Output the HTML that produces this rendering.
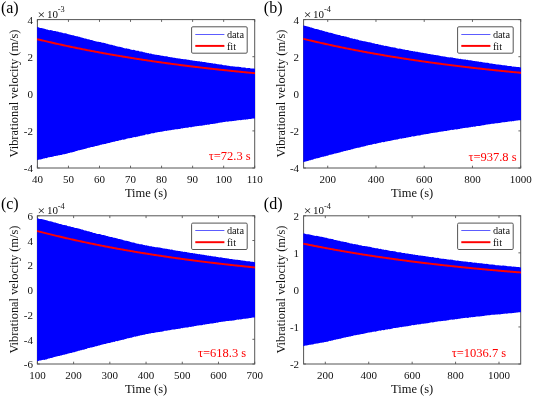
<!DOCTYPE html>
<html><head><meta charset="utf-8"><title>Figure</title>
<style>
html,body{margin:0;padding:0;background:#fff;}
body{width:533px;height:397px;overflow:hidden;font-family:"Liberation Serif",serif;}
svg{display:block;will-change:transform;}
text{font-family:"Liberation Serif",serif;fill:#111111;}
.tk{font-size:11px;}
.lb{font-size:12.5px;}
.lg{font-size:10.3px;}
.pn{font-size:16px;fill:#000;}
.tau{font-size:12.5px;fill:#ff0000;}
</style></head><body>
<svg width="533" height="397" viewBox="0 0 533 397">
<rect x="0" y="0" width="533" height="397" fill="#ffffff"/>

<g>
<rect x="37.40" y="19.60" width="217.30" height="148.40" fill="none" stroke="#555555" stroke-width="1"/>
<text class="tk" x="37.40" y="182.80" text-anchor="middle">40</text>
<text class="tk" x="68.44" y="182.80" text-anchor="middle">50</text>
<text class="tk" x="99.49" y="182.80" text-anchor="middle">60</text>
<text class="tk" x="130.53" y="182.80" text-anchor="middle">70</text>
<text class="tk" x="161.57" y="182.80" text-anchor="middle">80</text>
<text class="tk" x="192.61" y="182.80" text-anchor="middle">90</text>
<text class="tk" x="223.66" y="182.80" text-anchor="middle">100</text>
<text class="tk" x="254.70" y="182.80" text-anchor="middle">110</text>
<text class="tk" x="32.90" y="23.80" text-anchor="end">4</text>
<text class="tk" x="32.90" y="60.90" text-anchor="end">2</text>
<text class="tk" x="32.90" y="98.00" text-anchor="end">0</text>
<text class="tk" x="32.90" y="135.10" text-anchor="end">-2</text>
<text class="tk" x="32.90" y="172.20" text-anchor="end">-4</text>
<path d="M37.40,168.00v-2.3M37.40,19.60v2.3M68.44,168.00v-2.3M68.44,19.60v2.3M99.49,168.00v-2.3M99.49,19.60v2.3M130.53,168.00v-2.3M130.53,19.60v2.3M161.57,168.00v-2.3M161.57,19.60v2.3M192.61,168.00v-2.3M192.61,19.60v2.3M223.66,168.00v-2.3M223.66,19.60v2.3M254.70,168.00v-2.3M254.70,19.60v2.3M37.40,19.60h2.3M254.70,19.60h-2.3M37.40,56.70h2.3M254.70,56.70h-2.3M37.40,93.80h2.3M254.70,93.80h-2.3M37.40,130.90h2.3M254.70,130.90h-2.3M37.40,168.00h2.3M254.70,168.00h-2.3" stroke="#555555" stroke-width="0.9" fill="none"/>
<polygon points="37.10,27.02 38.40,27.24 39.40,27.66 40.40,27.88 41.41,27.96 42.41,28.20 43.41,28.47 44.41,28.85 45.41,28.96 46.41,29.39 47.41,29.60 48.42,29.98 49.42,30.15 50.42,30.07 51.42,30.35 52.42,30.50 53.42,30.89 54.42,31.06 55.42,31.07 56.43,31.52 57.43,31.58 58.43,31.84 59.43,32.19 60.43,32.18 61.43,32.51 62.43,32.81 63.44,33.13 64.44,33.14 65.44,33.26 66.44,33.46 67.44,34.00 68.44,34.30 69.44,34.48 70.45,34.70 71.45,35.07 72.45,35.18 73.45,35.28 74.45,35.78 75.45,36.11 76.45,36.21 77.46,36.33 78.46,36.65 79.46,36.87 80.46,37.16 81.46,37.53 82.46,37.67 83.46,38.12 84.46,38.49 85.47,38.53 86.47,38.82 87.47,39.32 88.47,39.26 89.47,39.54 90.47,39.94 91.47,39.95 92.48,40.35 93.48,40.83 94.48,40.89 95.48,41.20 96.48,41.52 97.48,41.75 98.48,41.79 99.49,41.90 100.49,42.11 101.49,42.40 102.49,42.68 103.49,42.78 104.49,43.06 105.49,43.27 106.50,43.75 107.50,43.85 108.50,44.14 109.50,44.57 110.50,44.67 111.50,44.76 112.50,45.11 113.51,45.55 114.51,45.47 115.51,45.92 116.51,46.17 117.51,46.40 118.51,46.78 119.51,46.78 120.51,46.98 121.52,47.36 122.52,47.51 123.52,47.93 124.52,48.17 125.52,48.38 126.52,48.36 127.52,48.63 128.53,48.70 129.53,49.00 130.53,49.48 131.53,49.67 132.53,49.88 133.53,49.80 134.53,50.00 135.54,50.38 136.54,50.69 137.54,50.83 138.54,50.83 139.54,51.38 140.54,51.54 141.54,51.54 142.55,51.83 143.55,52.31 144.55,52.31 145.55,52.66 146.55,52.65 147.55,53.18 148.55,53.09 149.55,53.64 150.56,53.60 151.56,53.72 152.56,54.26 153.56,54.28 154.56,54.44 155.56,54.78 156.56,54.73 157.57,54.90 158.57,55.08 159.57,55.20 160.57,55.46 161.57,55.72 162.57,55.83 163.57,56.03 164.58,56.20 165.58,56.33 166.58,56.32 167.58,56.55 168.58,56.93 169.58,56.93 170.58,57.18 171.59,57.16 172.59,57.38 173.59,57.74 174.59,57.81 175.59,58.11 176.59,58.14 177.59,58.25 178.59,58.38 179.60,58.54 180.60,58.78 181.60,59.03 182.60,59.03 183.60,59.29 184.60,59.15 185.60,59.28 186.61,59.43 187.61,59.86 188.61,59.75 189.61,60.10 190.61,60.34 191.61,60.22 192.61,60.43 193.62,60.81 194.62,60.63 195.62,60.91 196.62,60.93 197.62,61.29 198.62,61.36 199.62,61.29 200.63,61.68 201.63,61.60 202.63,62.04 203.63,61.91 204.63,62.04 205.63,62.28 206.63,62.49 207.64,62.80 208.64,62.69 209.64,63.01 210.64,62.97 211.64,63.36 212.64,63.27 213.64,63.65 214.64,63.58 215.65,63.73 216.65,64.03 217.65,64.23 218.65,64.26 219.65,64.52 220.65,64.50 221.65,64.62 222.66,64.88 223.66,65.20 224.66,65.24 225.66,65.32 226.66,65.43 227.66,65.76 228.66,65.68 229.67,66.11 230.67,66.19 231.67,66.19 232.67,66.28 233.67,66.52 234.67,66.51 235.67,66.77 236.68,66.77 237.68,66.75 238.68,66.87 239.68,67.06 240.68,67.11 241.68,67.54 242.68,67.41 243.68,67.53 244.69,67.59 245.69,67.74 246.69,68.14 247.69,67.96 248.69,68.09 249.69,68.08 250.69,68.38 251.70,68.38 252.70,68.42 253.70,68.56 255.00,68.84 255.00,118.46 253.70,118.53 252.70,118.59 251.70,118.80 250.69,118.91 249.69,118.97 248.69,119.07 247.69,119.43 246.69,119.37 245.69,119.65 244.69,119.55 243.68,119.67 242.68,119.69 241.68,119.98 240.68,120.16 239.68,120.00 238.68,120.35 237.68,120.22 236.68,120.43 235.67,120.66 234.67,120.86 233.67,121.05 232.67,120.98 231.67,121.24 230.67,121.21 229.67,121.21 228.66,121.49 227.66,121.66 226.66,121.58 225.66,121.72 224.66,121.93 223.66,122.12 222.66,122.27 221.65,122.38 220.65,122.51 219.65,122.69 218.65,122.80 217.65,123.27 216.65,123.18 215.65,123.55 214.64,123.70 213.64,123.83 212.64,124.04 211.64,123.98 210.64,123.99 209.64,124.40 208.64,124.64 207.64,124.53 206.63,124.94 205.63,124.78 204.63,125.19 203.63,125.14 202.63,125.57 201.63,125.72 200.63,125.68 199.62,125.75 198.62,125.93 197.62,125.91 196.62,126.17 195.62,126.33 194.62,126.51 193.62,126.81 192.61,126.82 191.61,127.15 190.61,127.30 189.61,127.12 188.61,127.50 187.61,127.71 186.61,127.77 185.60,127.75 184.60,127.98 183.60,128.00 182.60,128.47 181.60,128.35 180.60,128.75 179.60,128.92 178.59,128.91 177.59,129.13 176.59,129.21 175.59,129.33 174.59,129.62 173.59,129.67 172.59,129.73 171.59,130.00 170.58,130.25 169.58,130.31 168.58,130.48 167.58,130.61 166.58,130.90 165.58,130.82 164.58,130.92 163.57,131.29 162.57,131.61 161.57,131.77 160.57,131.76 159.57,132.11 158.57,132.09 157.57,132.33 156.56,132.39 155.56,132.54 154.56,132.99 153.56,133.20 152.56,133.29 151.56,133.24 150.56,133.66 149.55,133.91 148.55,134.20 147.55,134.41 146.55,134.37 145.55,134.60 144.55,135.13 143.55,135.14 142.55,135.52 141.54,135.75 140.54,135.85 139.54,136.20 138.54,136.37 137.54,136.65 136.54,136.74 135.54,137.13 134.53,137.06 133.53,137.28 132.53,137.55 131.53,138.00 130.53,137.98 129.53,138.28 128.53,138.32 127.52,138.43 126.52,138.84 125.52,139.14 124.52,139.39 123.52,139.69 122.52,139.61 121.52,140.07 120.51,140.30 119.51,140.37 118.51,140.74 117.51,141.10 116.51,140.96 115.51,141.25 114.51,141.82 113.51,141.75 112.50,142.03 111.50,142.21 110.50,142.61 109.50,143.06 108.50,142.96 107.50,143.29 106.50,143.46 105.49,143.99 104.49,144.02 103.49,144.18 102.49,144.37 101.49,144.65 100.49,144.84 99.49,145.30 98.48,145.43 97.48,145.82 96.48,146.05 95.48,145.99 94.48,146.46 93.48,146.73 92.48,146.93 91.47,147.12 90.47,147.30 89.47,147.65 88.47,147.80 87.47,148.02 86.47,148.57 85.47,148.64 84.46,149.08 83.46,149.35 82.46,149.44 81.46,149.87 80.46,149.89 79.46,150.36 78.46,150.37 77.46,150.77 76.45,151.12 75.45,151.23 74.45,151.78 73.45,151.92 72.45,152.17 71.45,152.55 70.45,152.62 69.44,152.93 68.44,153.08 67.44,153.44 66.44,153.72 65.44,153.89 64.44,154.23 63.44,154.21 62.43,154.50 61.43,154.95 60.43,155.05 59.43,155.31 58.43,155.36 57.43,155.68 56.43,155.82 55.42,155.94 54.42,156.08 53.42,156.41 52.42,156.70 51.42,157.00 50.42,156.93 49.42,157.21 48.42,157.33 47.41,157.69 46.41,158.14 45.41,158.08 44.41,158.55 43.41,158.50 42.41,158.88 41.41,159.17 40.40,159.38 39.40,159.53 38.40,159.85 37.10,160.28" fill="#0000ff"/>
<polyline points="37.10,39.23 38.40,39.47 39.40,39.71 40.40,39.96 41.41,40.20 42.41,40.43 43.41,40.67 44.41,40.91 45.41,41.15 46.41,41.38 47.41,41.62 48.42,41.85 49.42,42.08 50.42,42.31 51.42,42.54 52.42,42.77 53.42,43.00 54.42,43.22 55.42,43.45 56.43,43.68 57.43,43.90 58.43,44.12 59.43,44.34 60.43,44.56 61.43,44.78 62.43,45.00 63.44,45.22 64.44,45.44 65.44,45.65 66.44,45.87 67.44,46.08 68.44,46.30 69.44,46.51 70.45,46.72 71.45,46.93 72.45,47.14 73.45,47.35 74.45,47.55 75.45,47.76 76.45,47.97 77.46,48.17 78.46,48.38 79.46,48.58 80.46,48.78 81.46,48.98 82.46,49.18 83.46,49.38 84.46,49.58 85.47,49.78 86.47,49.97 87.47,50.17 88.47,50.36 89.47,50.56 90.47,50.75 91.47,50.94 92.48,51.14 93.48,51.33 94.48,51.52 95.48,51.70 96.48,51.89 97.48,52.08 98.48,52.27 99.49,52.45 100.49,52.64 101.49,52.82 102.49,53.00 103.49,53.19 104.49,53.37 105.49,53.55 106.50,53.73 107.50,53.91 108.50,54.09 109.50,54.26 110.50,54.44 111.50,54.62 112.50,54.79 113.51,54.96 114.51,55.14 115.51,55.31 116.51,55.48 117.51,55.65 118.51,55.82 119.51,55.99 120.51,56.16 121.52,56.33 122.52,56.50 123.52,56.67 124.52,56.83 125.52,57.00 126.52,57.16 127.52,57.33 128.53,57.49 129.53,57.65 130.53,57.81 131.53,57.97 132.53,58.13 133.53,58.29 134.53,58.45 135.54,58.61 136.54,58.77 137.54,58.92 138.54,59.08 139.54,59.23 140.54,59.39 141.54,59.54 142.55,59.70 143.55,59.85 144.55,60.00 145.55,60.15 146.55,60.30 147.55,60.45 148.55,60.60 149.55,60.75 150.56,60.90 151.56,61.04 152.56,61.19 153.56,61.34 154.56,61.48 155.56,61.63 156.56,61.77 157.57,61.91 158.57,62.06 159.57,62.20 160.57,62.34 161.57,62.48 162.57,62.62 163.57,62.76 164.58,62.90 165.58,63.04 166.58,63.17 167.58,63.31 168.58,63.45 169.58,63.58 170.58,63.72 171.59,63.85 172.59,63.99 173.59,64.12 174.59,64.25 175.59,64.39 176.59,64.52 177.59,64.65 178.59,64.78 179.60,64.91 180.60,65.04 181.60,65.17 182.60,65.29 183.60,65.42 184.60,65.55 185.60,65.68 186.61,65.80 187.61,65.93 188.61,66.05 189.61,66.18 190.61,66.30 191.61,66.42 192.61,66.55 193.62,66.67 194.62,66.79 195.62,66.91 196.62,67.03 197.62,67.15 198.62,67.27 199.62,67.39 200.63,67.51 201.63,67.62 202.63,67.74 203.63,67.86 204.63,67.97 205.63,68.09 206.63,68.20 207.64,68.32 208.64,68.43 209.64,68.55 210.64,68.66 211.64,68.77 212.64,68.88 213.64,69.00 214.64,69.11 215.65,69.22 216.65,69.33 217.65,69.44 218.65,69.55 219.65,69.66 220.65,69.76 221.65,69.87 222.66,69.98 223.66,70.09 224.66,70.19 225.66,70.30 226.66,70.40 227.66,70.51 228.66,70.61 229.67,70.72 230.67,70.82 231.67,70.92 232.67,71.02 233.67,71.13 234.67,71.23 235.67,71.33 236.68,71.43 237.68,71.53 238.68,71.63 239.68,71.73 240.68,71.83 241.68,71.93 242.68,72.03 243.68,72.12 244.69,72.22 245.69,72.32 246.69,72.41 247.69,72.51 248.69,72.60 249.69,72.70 250.69,72.79 251.70,72.89 252.70,72.98 253.70,73.08 255.00,73.17" fill="none" stroke="#ff0000" stroke-width="1.95"/>
<text x="37.60" y="19.00" style="font-size:13.5px">×</text>
<text x="46.90" y="17.80" style="font-size:11px">10</text>
<text x="57.70" y="12.40" style="font-size:8.3px">-3</text>
<text class="lb" x="146.05" y="196.90" text-anchor="middle">Time (s)</text>
<text class="lb" style="font-size:12.4px" transform="translate(18.30,93.55) rotate(-90)" text-anchor="middle">Vibrational velocity (m/s)</text>
<rect x="191.60" y="26.80" width="55.60" height="26.40" rx="1.2" ry="1.2" fill="#ffffff" stroke="#555555" stroke-width="1"/>
<line x1="195.30" x2="224.40" y1="34.50" y2="34.50" stroke="#4a4aff" stroke-width="0.9"/>
<line x1="195.30" x2="224.40" y1="45.90" y2="45.90" stroke="#ff0000" stroke-width="1.95"/>
<text class="lg" x="226.90" y="38.00">data</text>
<text class="lg" x="226.90" y="49.70">fit</text>
<text class="tau" x="208.80" y="160.30">τ=72.3 s</text>
<text class="pn" x="0.90" y="13.10">(a)</text>
</g>
<g>
<rect x="303.60" y="19.60" width="217.10" height="148.40" fill="none" stroke="#555555" stroke-width="1"/>
<text class="tk" x="327.72" y="182.80" text-anchor="middle">200</text>
<text class="tk" x="375.97" y="182.80" text-anchor="middle">400</text>
<text class="tk" x="424.21" y="182.80" text-anchor="middle">600</text>
<text class="tk" x="472.46" y="182.80" text-anchor="middle">800</text>
<text class="tk" x="520.70" y="182.80" text-anchor="middle">1000</text>
<text class="tk" x="299.10" y="23.80" text-anchor="end">4</text>
<text class="tk" x="299.10" y="60.90" text-anchor="end">2</text>
<text class="tk" x="299.10" y="98.00" text-anchor="end">0</text>
<text class="tk" x="299.10" y="135.10" text-anchor="end">-2</text>
<text class="tk" x="299.10" y="172.20" text-anchor="end">-4</text>
<path d="M327.72,168.00v-2.3M327.72,19.60v2.3M375.97,168.00v-2.3M375.97,19.60v2.3M424.21,168.00v-2.3M424.21,19.60v2.3M472.46,168.00v-2.3M472.46,19.60v2.3M520.70,168.00v-2.3M520.70,19.60v2.3M303.60,19.60h2.3M520.70,19.60h-2.3M303.60,56.70h2.3M520.70,56.70h-2.3M303.60,93.80h2.3M520.70,93.80h-2.3M303.60,130.90h2.3M520.70,130.90h-2.3M303.60,168.00h2.3M520.70,168.00h-2.3" stroke="#555555" stroke-width="0.9" fill="none"/>
<polygon points="303.30,25.44 304.60,25.67 305.60,26.10 306.60,26.34 307.60,26.44 308.60,26.72 309.60,27.01 310.60,27.43 311.60,27.59 312.60,28.07 313.60,28.33 314.61,28.76 315.61,28.98 316.61,28.97 317.61,29.31 318.61,29.52 319.61,29.97 320.61,30.21 321.61,30.28 322.61,30.79 323.61,30.91 324.61,31.24 325.61,31.64 326.61,31.69 327.61,32.07 328.61,32.42 329.61,32.79 330.61,32.83 331.61,32.99 332.61,33.21 333.61,33.77 334.61,34.08 335.61,34.27 336.62,34.48 337.62,34.85 338.62,34.96 339.62,35.06 340.62,35.55 341.62,35.88 342.62,35.96 343.62,36.07 344.62,36.38 345.62,36.59 346.62,36.87 347.62,37.23 348.62,37.36 349.62,37.79 350.62,38.15 351.62,38.18 352.62,38.46 353.62,38.94 354.62,38.87 355.62,39.14 356.62,39.53 357.62,39.53 358.63,39.92 359.63,40.39 360.63,40.45 361.63,40.75 362.63,41.08 363.63,41.30 364.63,41.34 365.63,41.46 366.63,41.67 367.63,41.96 368.63,42.24 369.63,42.33 370.63,42.59 371.63,42.79 372.63,43.24 373.63,43.32 374.63,43.58 375.63,44.00 376.63,44.06 377.63,44.12 378.63,44.44 379.64,44.84 380.64,44.73 381.64,45.14 382.64,45.35 383.64,45.55 384.64,45.89 385.64,45.85 386.64,46.02 387.64,46.36 388.64,46.48 389.64,46.87 390.64,47.08 391.64,47.26 392.64,47.22 393.64,47.47 394.64,47.53 395.64,47.81 396.64,48.28 397.64,48.47 398.64,48.66 399.64,48.56 400.64,48.74 401.65,49.09 402.65,49.37 403.65,49.48 404.65,49.44 405.65,49.96 406.65,50.08 407.65,50.03 408.65,50.28 409.65,50.72 410.65,50.68 411.65,50.99 412.65,50.94 413.65,51.44 414.65,51.32 415.65,51.83 416.65,51.76 417.65,51.85 418.65,52.37 419.65,52.37 420.65,52.51 421.65,52.84 422.65,52.79 423.66,52.96 424.66,53.14 425.66,53.26 426.66,53.52 427.66,53.79 428.66,53.89 429.66,54.09 430.66,54.27 431.66,54.40 432.66,54.40 433.66,54.63 434.66,55.02 435.66,55.02 436.66,55.28 437.66,55.26 438.66,55.48 439.66,55.85 440.66,55.93 441.66,56.23 442.66,56.27 443.66,56.39 444.66,56.52 445.67,56.69 446.67,56.93 447.67,57.19 448.67,57.19 449.67,57.46 450.67,57.32 451.67,57.46 452.67,57.61 453.67,58.05 454.67,57.95 455.67,58.30 456.67,58.54 457.67,58.43 458.67,58.65 459.67,59.03 460.67,58.85 461.67,59.14 462.67,59.16 463.67,59.52 464.67,59.60 465.67,59.53 466.68,59.92 467.68,59.85 468.68,60.29 469.68,60.16 470.68,60.29 471.68,60.53 472.68,60.74 473.68,61.05 474.68,60.93 475.68,61.25 476.68,61.21 477.68,61.60 478.68,61.50 479.68,61.88 480.68,61.81 481.68,61.95 482.68,62.25 483.68,62.44 484.68,62.48 485.68,62.73 486.68,62.71 487.68,62.84 488.69,63.09 489.69,63.42 490.69,63.46 491.69,63.54 492.69,63.65 493.69,63.99 494.69,63.92 495.69,64.36 496.69,64.46 497.69,64.47 498.69,64.57 499.69,64.83 500.69,64.83 501.69,65.12 502.69,65.14 503.69,65.13 504.69,65.28 505.69,65.49 506.69,65.55 507.69,66.00 508.69,65.90 509.69,66.03 510.70,66.11 511.70,66.28 512.70,66.69 513.70,66.52 514.70,66.67 515.70,66.67 516.70,66.99 517.70,67.00 518.70,67.04 519.70,67.19 521.00,67.47 521.00,120.13 519.70,120.21 518.70,120.27 517.70,120.49 516.70,120.61 515.70,120.68 514.70,120.79 513.70,121.16 512.70,121.12 511.70,121.41 510.70,121.33 509.69,121.47 508.69,121.51 507.69,121.82 506.69,122.02 505.69,121.88 504.69,122.25 503.69,122.14 502.69,122.36 501.69,122.62 500.69,122.84 499.69,123.04 498.69,122.99 497.69,123.26 496.69,123.24 495.69,123.26 494.69,123.55 493.69,123.72 492.69,123.65 491.69,123.80 490.69,124.01 489.69,124.20 488.69,124.36 487.68,124.46 486.68,124.60 485.68,124.78 484.68,124.88 483.68,125.35 482.68,125.26 481.68,125.62 480.68,125.77 479.68,125.90 478.68,126.10 477.68,126.05 476.68,126.05 475.68,126.46 474.68,126.70 473.68,126.58 472.68,126.99 471.68,126.83 470.68,127.24 469.68,127.18 468.68,127.62 467.68,127.77 466.68,127.73 465.67,127.81 464.67,128.00 463.67,127.98 462.67,128.24 461.67,128.40 460.67,128.58 459.67,128.89 458.67,128.91 457.67,129.24 456.67,129.40 455.67,129.22 454.67,129.60 453.67,129.82 452.67,129.89 451.67,129.87 450.67,130.10 449.67,130.13 448.67,130.61 447.67,130.49 446.67,130.90 445.67,131.08 444.66,131.07 443.66,131.30 442.66,131.38 441.66,131.51 440.66,131.80 439.66,131.86 438.66,131.93 437.66,132.21 436.66,132.46 435.66,132.52 434.66,132.70 433.66,132.83 432.66,133.12 431.66,133.05 430.66,133.15 429.66,133.52 428.66,133.84 427.66,134.01 426.66,134.00 425.66,134.35 424.66,134.33 423.66,134.57 422.65,134.63 421.65,134.77 420.65,135.21 419.65,135.41 418.65,135.48 417.65,135.40 416.65,135.80 415.65,136.02 414.65,136.27 413.65,136.45 412.65,136.37 411.65,136.56 410.65,137.06 409.65,137.02 408.65,137.37 407.65,137.55 406.65,137.61 405.65,137.92 404.65,138.06 403.65,138.30 402.65,138.36 401.65,138.72 400.64,138.62 399.64,138.82 398.64,139.07 397.64,139.50 396.64,139.48 395.64,139.77 394.64,139.79 393.64,139.89 392.64,140.28 391.64,140.56 390.64,140.78 389.64,141.05 388.64,140.94 387.64,141.36 386.64,141.56 385.64,141.60 384.64,141.93 383.64,142.25 382.64,142.07 381.64,142.33 380.64,142.86 379.64,142.75 378.63,143.00 377.63,143.15 376.63,143.52 375.63,143.94 374.63,143.81 373.63,144.12 372.63,144.26 371.63,144.77 370.63,144.79 369.63,144.93 368.63,145.12 367.63,145.39 366.63,145.58 365.63,146.04 364.63,146.18 363.63,146.57 362.63,146.80 361.63,146.74 360.63,147.20 359.63,147.47 358.63,147.66 357.62,147.84 356.62,148.02 355.62,148.35 354.62,148.49 353.62,148.70 352.62,149.24 351.62,149.30 350.62,149.72 349.62,149.98 348.62,150.06 347.62,150.48 346.62,150.48 345.62,150.94 344.62,150.93 343.62,151.32 342.62,151.66 341.62,151.77 340.62,152.31 339.62,152.45 338.62,152.69 337.62,153.07 336.62,153.13 335.61,153.45 334.61,153.60 333.61,153.97 332.61,154.27 331.61,154.46 330.61,154.84 329.61,154.85 328.61,155.19 327.61,155.69 326.61,155.84 325.61,156.16 324.61,156.26 323.61,156.65 322.61,156.85 321.61,157.03 320.61,157.24 319.61,157.63 318.61,157.98 317.61,158.34 316.61,158.34 315.61,158.67 314.61,158.85 313.60,159.26 312.60,159.76 311.60,159.75 310.60,160.27 309.60,160.25 308.60,160.67 307.60,160.99 306.60,161.22 305.60,161.39 304.60,161.72 303.30,162.16" fill="#0000ff"/>
<polyline points="303.30,38.89 304.60,39.13 305.60,39.38 306.60,39.62 307.60,39.85 308.60,40.09 309.60,40.33 310.60,40.57 311.60,40.80 312.60,41.03 313.60,41.27 314.61,41.50 315.61,41.73 316.61,41.96 317.61,42.19 318.61,42.42 319.61,42.64 320.61,42.87 321.61,43.09 322.61,43.32 323.61,43.54 324.61,43.76 325.61,43.98 326.61,44.20 327.61,44.42 328.61,44.64 329.61,44.86 330.61,45.07 331.61,45.29 332.61,45.50 333.61,45.71 334.61,45.93 335.61,46.14 336.62,46.35 337.62,46.56 338.62,46.77 339.62,46.97 340.62,47.18 341.62,47.39 342.62,47.59 343.62,47.79 344.62,48.00 345.62,48.20 346.62,48.40 347.62,48.60 348.62,48.80 349.62,49.00 350.62,49.20 351.62,49.39 352.62,49.59 353.62,49.78 354.62,49.98 355.62,50.17 356.62,50.37 357.62,50.56 358.63,50.75 359.63,50.94 360.63,51.13 361.63,51.31 362.63,51.50 363.63,51.69 364.63,51.87 365.63,52.06 366.63,52.24 367.63,52.43 368.63,52.61 369.63,52.79 370.63,52.97 371.63,53.15 372.63,53.33 373.63,53.51 374.63,53.69 375.63,53.87 376.63,54.04 377.63,54.22 378.63,54.39 379.64,54.57 380.64,54.74 381.64,54.91 382.64,55.08 383.64,55.25 384.64,55.42 385.64,55.59 386.64,55.76 387.64,55.93 388.64,56.10 389.64,56.26 390.64,56.43 391.64,56.59 392.64,56.76 393.64,56.92 394.64,57.08 395.64,57.25 396.64,57.41 397.64,57.57 398.64,57.73 399.64,57.89 400.64,58.05 401.65,58.20 402.65,58.36 403.65,58.52 404.65,58.67 405.65,58.83 406.65,58.98 407.65,59.14 408.65,59.29 409.65,59.44 410.65,59.59 411.65,59.74 412.65,59.89 413.65,60.04 414.65,60.19 415.65,60.34 416.65,60.49 417.65,60.64 418.65,60.78 419.65,60.93 420.65,61.07 421.65,61.22 422.65,61.36 423.66,61.50 424.66,61.65 425.66,61.79 426.66,61.93 427.66,62.07 428.66,62.21 429.66,62.35 430.66,62.49 431.66,62.63 432.66,62.76 433.66,62.90 434.66,63.04 435.66,63.17 436.66,63.31 437.66,63.44 438.66,63.58 439.66,63.71 440.66,63.84 441.66,63.97 442.66,64.11 443.66,64.24 444.66,64.37 445.67,64.50 446.67,64.63 447.67,64.76 448.67,64.88 449.67,65.01 450.67,65.14 451.67,65.27 452.67,65.39 453.67,65.52 454.67,65.64 455.67,65.77 456.67,65.89 457.67,66.01 458.67,66.14 459.67,66.26 460.67,66.38 461.67,66.50 462.67,66.62 463.67,66.74 464.67,66.86 465.67,66.98 466.68,67.10 467.68,67.21 468.68,67.33 469.68,67.45 470.68,67.57 471.68,67.68 472.68,67.80 473.68,67.91 474.68,68.03 475.68,68.14 476.68,68.25 477.68,68.36 478.68,68.48 479.68,68.59 480.68,68.70 481.68,68.81 482.68,68.92 483.68,69.03 484.68,69.14 485.68,69.25 486.68,69.36 487.68,69.47 488.69,69.57 489.69,69.68 490.69,69.79 491.69,69.89 492.69,70.00 493.69,70.10 494.69,70.21 495.69,70.31 496.69,70.41 497.69,70.52 498.69,70.62 499.69,70.72 500.69,70.82 501.69,70.93 502.69,71.03 503.69,71.13 504.69,71.23 505.69,71.33 506.69,71.43 507.69,71.53 508.69,71.62 509.69,71.72 510.70,71.82 511.70,71.92 512.70,72.01 513.70,72.11 514.70,72.20 515.70,72.30 516.70,72.39 517.70,72.49 518.70,72.58 519.70,72.68 521.00,72.77" fill="none" stroke="#ff0000" stroke-width="1.95"/>
<text x="303.80" y="19.00" style="font-size:13.5px">×</text>
<text x="313.10" y="17.80" style="font-size:11px">10</text>
<text x="323.90" y="12.40" style="font-size:8.3px">-4</text>
<text class="lb" x="412.15" y="196.90" text-anchor="middle">Time (s)</text>
<text class="lb" style="font-size:12.4px" transform="translate(284.50,93.55) rotate(-90)" text-anchor="middle">Vibrational velocity (m/s)</text>
<rect x="457.60" y="26.80" width="55.60" height="26.40" rx="1.2" ry="1.2" fill="#ffffff" stroke="#555555" stroke-width="1"/>
<line x1="461.30" x2="490.40" y1="34.50" y2="34.50" stroke="#4a4aff" stroke-width="0.9"/>
<line x1="461.30" x2="490.40" y1="45.90" y2="45.90" stroke="#ff0000" stroke-width="1.95"/>
<text class="lg" x="492.90" y="38.00">data</text>
<text class="lg" x="492.90" y="49.70">fit</text>
<text class="tau" x="468.40" y="160.70">τ=937.8 s</text>
<text class="pn" x="263.80" y="13.00">(b)</text>
</g>
<g>
<rect x="37.40" y="215.80" width="217.30" height="148.20" fill="none" stroke="#555555" stroke-width="1"/>
<text class="tk" x="37.40" y="378.80" text-anchor="middle">100</text>
<text class="tk" x="73.62" y="378.80" text-anchor="middle">200</text>
<text class="tk" x="109.83" y="378.80" text-anchor="middle">300</text>
<text class="tk" x="146.05" y="378.80" text-anchor="middle">400</text>
<text class="tk" x="182.27" y="378.80" text-anchor="middle">500</text>
<text class="tk" x="218.48" y="378.80" text-anchor="middle">600</text>
<text class="tk" x="254.70" y="378.80" text-anchor="middle">700</text>
<text class="tk" x="32.90" y="220.00" text-anchor="end">6</text>
<text class="tk" x="32.90" y="244.70" text-anchor="end">4</text>
<text class="tk" x="32.90" y="269.40" text-anchor="end">2</text>
<text class="tk" x="32.90" y="294.10" text-anchor="end">0</text>
<text class="tk" x="32.90" y="318.80" text-anchor="end">-2</text>
<text class="tk" x="32.90" y="343.50" text-anchor="end">-4</text>
<text class="tk" x="32.90" y="368.20" text-anchor="end">-6</text>
<path d="M37.40,364.00v-2.3M37.40,215.80v2.3M73.62,364.00v-2.3M73.62,215.80v2.3M109.83,364.00v-2.3M109.83,215.80v2.3M146.05,364.00v-2.3M146.05,215.80v2.3M182.27,364.00v-2.3M182.27,215.80v2.3M218.48,364.00v-2.3M218.48,215.80v2.3M254.70,364.00v-2.3M254.70,215.80v2.3M37.40,215.80h2.3M254.70,215.80h-2.3M37.40,240.50h2.3M254.70,240.50h-2.3M37.40,265.20h2.3M254.70,265.20h-2.3M37.40,289.90h2.3M254.70,289.90h-2.3M37.40,314.60h2.3M254.70,314.60h-2.3M37.40,339.30h2.3M254.70,339.30h-2.3M37.40,364.00h2.3M254.70,364.00h-2.3" stroke="#555555" stroke-width="0.9" fill="none"/>
<polygon points="37.10,218.27 38.40,218.49 39.40,218.88 40.40,219.07 41.41,219.08 42.41,219.27 43.41,219.48 44.41,219.81 45.41,219.90 46.41,220.32 47.41,220.56 48.42,221.00 49.42,221.25 50.42,221.26 51.42,221.61 52.42,221.84 53.42,222.29 54.42,222.52 55.42,222.59 56.43,223.10 57.43,223.22 58.43,223.53 59.43,223.91 60.43,223.95 61.43,224.31 62.43,224.64 63.44,224.98 64.44,225.01 65.44,225.15 66.44,225.35 67.44,225.89 68.44,226.19 69.44,226.37 70.45,226.58 71.45,226.94 72.45,227.05 73.45,227.15 74.45,227.66 75.45,228.00 76.45,228.09 77.46,228.22 78.46,228.55 79.46,228.77 80.46,229.07 81.46,229.45 82.46,229.60 83.46,230.05 84.46,230.43 85.47,230.49 86.47,230.79 87.47,231.30 88.47,231.25 89.47,231.54 90.47,231.95 91.47,231.98 92.48,232.39 93.48,232.89 94.48,232.97 95.48,233.30 96.48,233.65 97.48,233.90 98.48,233.96 99.49,234.10 100.49,234.33 101.49,234.64 102.49,234.94 103.49,235.05 104.49,235.34 105.49,235.55 106.50,236.02 107.50,236.11 108.50,236.39 109.50,236.82 110.50,236.89 111.50,236.97 112.50,237.31 113.51,237.75 114.51,237.67 115.51,238.11 116.51,238.36 117.51,238.61 118.51,238.99 119.51,239.00 120.51,239.21 121.52,239.61 122.52,239.79 123.52,240.23 124.52,240.50 125.52,240.74 126.52,240.76 127.52,241.07 128.53,241.19 129.53,241.53 130.53,242.06 131.53,242.30 132.53,242.55 133.53,242.50 134.53,242.74 135.54,243.15 136.54,243.47 137.54,243.63 138.54,243.63 139.54,244.19 140.54,244.35 141.54,244.34 142.55,244.61 143.55,245.08 144.55,245.05 145.55,245.38 146.55,245.34 147.55,245.84 148.55,245.72 149.55,246.24 150.56,246.16 151.56,246.25 152.56,246.76 153.56,246.75 154.56,246.89 155.56,247.21 156.56,247.15 157.57,247.30 158.57,247.48 159.57,247.59 160.57,247.84 161.57,248.10 162.57,248.20 163.57,248.40 164.58,248.57 165.58,248.71 166.58,248.71 167.58,248.95 168.58,249.35 169.58,249.36 170.58,249.63 171.59,249.62 172.59,249.84 173.59,250.22 174.59,250.31 175.59,250.61 176.59,250.66 177.59,250.78 178.59,250.92 179.60,251.09 180.60,251.34 181.60,251.60 182.60,251.61 183.60,251.88 184.60,251.75 185.60,251.89 186.61,252.05 187.61,252.49 188.61,252.39 189.61,252.75 190.61,253.00 191.61,252.89 192.61,253.12 193.62,253.51 194.62,253.34 195.62,253.64 196.62,253.67 197.62,254.04 198.62,254.13 199.62,254.08 200.63,254.48 201.63,254.42 202.63,254.87 203.63,254.75 204.63,254.89 205.63,255.14 206.63,255.36 207.64,255.68 208.64,255.57 209.64,255.89 210.64,255.86 211.64,256.25 212.64,256.16 213.64,256.54 214.64,256.47 215.65,256.61 216.65,256.92 217.65,257.11 218.65,257.14 219.65,257.39 220.65,257.36 221.65,257.48 222.66,257.72 223.66,258.04 224.66,258.08 225.66,258.16 226.66,258.26 227.66,258.59 228.66,258.52 229.67,258.96 230.67,259.05 231.67,259.07 232.67,259.17 233.67,259.43 234.67,259.43 235.67,259.72 236.68,259.74 237.68,259.74 238.68,259.89 239.68,260.10 240.68,260.17 241.68,260.62 242.68,260.53 243.68,260.67 244.69,260.75 245.69,260.93 246.69,261.34 247.69,261.18 248.69,261.34 249.69,261.35 250.69,261.66 251.70,261.68 252.70,261.73 253.70,261.88 255.00,262.17 255.00,317.43 253.70,317.51 252.70,317.58 251.70,317.80 250.69,317.93 249.69,318.01 248.69,318.13 247.69,318.50 246.69,318.47 245.69,318.76 244.69,318.69 243.68,318.83 242.68,318.88 241.68,319.19 240.68,319.40 239.68,319.27 238.68,319.64 237.68,319.53 236.68,319.76 235.67,320.02 234.67,320.24 233.67,320.44 232.67,320.39 231.67,320.67 230.67,320.65 229.67,320.66 228.66,320.95 227.66,321.12 226.66,321.05 225.66,321.19 224.66,321.39 223.66,321.58 222.66,321.73 221.65,321.82 220.65,321.95 219.65,322.12 218.65,322.22 217.65,322.69 216.65,322.60 215.65,322.96 214.64,323.11 213.64,323.24 212.64,323.44 211.64,323.39 210.64,323.40 209.64,323.82 208.64,324.06 207.64,323.95 206.63,324.37 205.63,324.22 204.63,324.64 203.63,324.59 202.63,325.04 201.63,325.20 200.63,325.17 199.62,325.26 198.62,325.47 197.62,325.46 196.62,325.74 195.62,325.90 194.62,326.10 193.62,326.42 192.61,326.43 191.61,326.78 190.61,326.94 189.61,326.77 188.61,327.15 187.61,327.38 186.61,327.45 185.60,327.44 184.60,327.68 183.60,327.71 182.60,328.19 181.60,328.08 180.60,328.49 179.60,328.68 178.59,328.67 177.59,328.90 176.59,328.99 175.59,329.13 174.59,329.42 173.59,329.49 172.59,329.57 171.59,329.85 170.58,330.11 169.58,330.18 168.58,330.37 167.58,330.51 166.58,330.81 165.58,330.74 164.58,330.84 163.57,331.22 162.57,331.54 161.57,331.70 160.57,331.68 159.57,332.03 158.57,331.99 157.57,332.23 156.56,332.27 155.56,332.41 154.56,332.84 153.56,333.03 152.56,333.09 151.56,333.01 150.56,333.39 149.55,333.62 148.55,333.87 147.55,334.04 146.55,333.97 145.55,334.17 144.55,334.69 143.55,334.67 142.55,335.04 141.54,335.25 140.54,335.35 139.54,335.69 138.54,335.87 137.54,336.15 136.54,336.26 135.54,336.66 134.53,336.62 133.53,336.88 132.53,337.18 131.53,337.67 130.53,337.70 129.53,338.05 128.53,338.14 127.52,338.29 126.52,338.74 125.52,339.08 124.52,339.36 123.52,339.69 122.52,339.64 121.52,340.11 120.51,340.36 119.51,340.45 118.51,340.83 117.51,341.20 116.51,341.06 115.51,341.36 114.51,341.92 113.51,341.85 112.50,342.13 111.50,342.30 110.50,342.69 109.50,343.12 108.50,343.00 107.50,343.33 106.50,343.48 105.49,344.01 104.49,344.05 103.49,344.21 102.49,344.41 101.49,344.71 100.49,344.92 99.49,345.40 98.48,345.56 97.48,345.97 96.48,346.22 95.48,346.19 94.48,346.68 93.48,346.97 92.48,347.18 91.47,347.39 90.47,347.59 89.47,347.95 88.47,348.11 87.47,348.35 86.47,348.91 85.47,348.99 84.46,349.44 83.46,349.72 82.46,349.82 81.46,350.26 80.46,350.28 79.46,350.76 78.46,350.77 77.46,351.18 76.45,351.53 75.45,351.65 74.45,352.20 73.45,352.35 72.45,352.60 71.45,352.98 70.45,353.04 69.44,353.35 68.44,353.49 67.44,353.84 66.44,354.13 65.44,354.31 64.44,354.66 63.44,354.66 62.43,354.97 61.43,355.45 60.43,355.58 59.43,355.88 58.43,355.98 57.43,356.34 56.43,356.54 55.42,356.71 54.42,356.92 53.42,357.31 52.42,357.67 51.42,358.04 50.42,358.05 49.42,358.41 48.42,358.61 47.41,359.03 46.41,359.51 45.41,359.44 44.41,359.89 43.41,359.79 42.41,360.12 41.41,360.34 40.40,360.49 39.40,360.61 38.40,360.90 37.10,361.33" fill="#0000ff"/>
<polyline points="37.10,231.07 38.40,231.33 39.40,231.59 40.40,231.85 41.41,232.11 42.41,232.37 43.41,232.62 44.41,232.88 45.41,233.13 46.41,233.38 47.41,233.63 48.42,233.88 49.42,234.13 50.42,234.38 51.42,234.62 52.42,234.87 53.42,235.11 54.42,235.36 55.42,235.60 56.43,235.84 57.43,236.08 58.43,236.32 59.43,236.56 60.43,236.79 61.43,237.03 62.43,237.26 63.44,237.50 64.44,237.73 65.44,237.96 66.44,238.19 67.44,238.42 68.44,238.65 69.44,238.88 70.45,239.10 71.45,239.33 72.45,239.55 73.45,239.78 74.45,240.00 75.45,240.22 76.45,240.44 77.46,240.66 78.46,240.88 79.46,241.09 80.46,241.31 81.46,241.53 82.46,241.74 83.46,241.95 84.46,242.17 85.47,242.38 86.47,242.59 87.47,242.80 88.47,243.01 89.47,243.22 90.47,243.42 91.47,243.63 92.48,243.83 93.48,244.04 94.48,244.24 95.48,244.44 96.48,244.64 97.48,244.85 98.48,245.05 99.49,245.24 100.49,245.44 101.49,245.64 102.49,245.84 103.49,246.03 104.49,246.22 105.49,246.42 106.50,246.61 107.50,246.80 108.50,246.99 109.50,247.18 110.50,247.37 111.50,247.56 112.50,247.75 113.51,247.94 114.51,248.12 115.51,248.31 116.51,248.49 117.51,248.67 118.51,248.86 119.51,249.04 120.51,249.22 121.52,249.40 122.52,249.58 123.52,249.76 124.52,249.94 125.52,250.11 126.52,250.29 127.52,250.46 128.53,250.64 129.53,250.81 130.53,250.99 131.53,251.16 132.53,251.33 133.53,251.50 134.53,251.67 135.54,251.84 136.54,252.01 137.54,252.18 138.54,252.34 139.54,252.51 140.54,252.67 141.54,252.84 142.55,253.00 143.55,253.17 144.55,253.33 145.55,253.49 146.55,253.65 147.55,253.81 148.55,253.97 149.55,254.13 150.56,254.29 151.56,254.45 152.56,254.60 153.56,254.76 154.56,254.92 155.56,255.07 156.56,255.22 157.57,255.38 158.57,255.53 159.57,255.68 160.57,255.83 161.57,255.98 162.57,256.13 163.57,256.28 164.58,256.43 165.58,256.58 166.58,256.73 167.58,256.87 168.58,257.02 169.58,257.17 170.58,257.31 171.59,257.45 172.59,257.60 173.59,257.74 174.59,257.88 175.59,258.02 176.59,258.17 177.59,258.31 178.59,258.45 179.60,258.58 180.60,258.72 181.60,258.86 182.60,259.00 183.60,259.13 184.60,259.27 185.60,259.41 186.61,259.54 187.61,259.67 188.61,259.81 189.61,259.94 190.61,260.07 191.61,260.20 192.61,260.34 193.62,260.47 194.62,260.60 195.62,260.73 196.62,260.85 197.62,260.98 198.62,261.11 199.62,261.24 200.63,261.36 201.63,261.49 202.63,261.62 203.63,261.74 204.63,261.86 205.63,261.99 206.63,262.11 207.64,262.23 208.64,262.36 209.64,262.48 210.64,262.60 211.64,262.72 212.64,262.84 213.64,262.96 214.64,263.08 215.65,263.20 216.65,263.31 217.65,263.43 218.65,263.55 219.65,263.66 220.65,263.78 221.65,263.90 222.66,264.01 223.66,264.12 224.66,264.24 225.66,264.35 226.66,264.46 227.66,264.58 228.66,264.69 229.67,264.80 230.67,264.91 231.67,265.02 232.67,265.13 233.67,265.24 234.67,265.35 235.67,265.46 236.68,265.56 237.68,265.67 238.68,265.78 239.68,265.88 240.68,265.99 241.68,266.09 242.68,266.20 243.68,266.30 244.69,266.41 245.69,266.51 246.69,266.61 247.69,266.72 248.69,266.82 249.69,266.92 250.69,267.02 251.70,267.12 252.70,267.22 253.70,267.32 255.00,267.42" fill="none" stroke="#ff0000" stroke-width="1.95"/>
<text x="37.60" y="215.20" style="font-size:13.5px">×</text>
<text x="46.90" y="214.00" style="font-size:11px">10</text>
<text x="57.70" y="208.60" style="font-size:8.3px">-4</text>
<text class="lb" x="146.05" y="392.90" text-anchor="middle">Time (s)</text>
<text class="lb" style="font-size:12.4px" transform="translate(18.30,289.65) rotate(-90)" text-anchor="middle">Vibrational velocity (m/s)</text>
<rect x="191.60" y="223.10" width="55.60" height="26.40" rx="1.2" ry="1.2" fill="#ffffff" stroke="#555555" stroke-width="1"/>
<line x1="195.30" x2="224.40" y1="230.50" y2="230.50" stroke="#4a4aff" stroke-width="0.9"/>
<line x1="195.30" x2="224.40" y1="242.20" y2="242.20" stroke="#ff0000" stroke-width="1.95"/>
<text class="lg" x="226.90" y="234.30">data</text>
<text class="lg" x="226.90" y="246.00">fit</text>
<text class="tau" x="198.00" y="357.30">τ=618.3 s</text>
<text class="pn" x="0.90" y="209.30">(c)</text>
</g>
<g>
<rect x="303.60" y="215.80" width="217.10" height="148.20" fill="none" stroke="#555555" stroke-width="1"/>
<text class="tk" x="325.31" y="378.80" text-anchor="middle">200</text>
<text class="tk" x="368.73" y="378.80" text-anchor="middle">400</text>
<text class="tk" x="412.15" y="378.80" text-anchor="middle">600</text>
<text class="tk" x="455.57" y="378.80" text-anchor="middle">800</text>
<text class="tk" x="498.99" y="378.80" text-anchor="middle">1000</text>
<text class="tk" x="299.10" y="220.00" text-anchor="end">2</text>
<text class="tk" x="299.10" y="257.05" text-anchor="end">1</text>
<text class="tk" x="299.10" y="294.10" text-anchor="end">0</text>
<text class="tk" x="299.10" y="331.15" text-anchor="end">-1</text>
<text class="tk" x="299.10" y="368.20" text-anchor="end">-2</text>
<path d="M325.31,364.00v-2.3M325.31,215.80v2.3M368.73,364.00v-2.3M368.73,215.80v2.3M412.15,364.00v-2.3M412.15,215.80v2.3M455.57,364.00v-2.3M455.57,215.80v2.3M498.99,364.00v-2.3M498.99,215.80v2.3M303.60,215.80h2.3M520.70,215.80h-2.3M303.60,252.85h2.3M520.70,252.85h-2.3M303.60,289.90h2.3M520.70,289.90h-2.3M303.60,326.95h2.3M520.70,326.95h-2.3M303.60,364.00h2.3M520.70,364.00h-2.3" stroke="#555555" stroke-width="0.9" fill="none"/>
<polygon points="303.30,233.43 304.60,233.60 305.60,233.96 306.60,234.13 307.60,234.15 308.60,234.34 309.60,234.55 310.60,234.87 311.60,234.93 312.60,235.31 313.60,235.46 314.61,235.79 315.61,235.91 316.61,235.79 317.61,236.03 318.61,236.15 319.61,236.51 320.61,236.66 321.61,236.65 322.61,237.09 323.61,237.15 324.61,237.42 325.61,237.78 326.61,237.79 327.61,238.13 328.61,238.44 329.61,238.77 330.61,238.78 331.61,238.91 332.61,239.10 333.61,239.62 334.61,239.90 335.61,240.06 336.62,240.25 337.62,240.58 338.62,240.67 339.62,240.74 340.62,241.20 341.62,241.50 342.62,241.56 343.62,241.64 344.62,241.92 345.62,242.10 346.62,242.35 347.62,242.67 348.62,242.77 349.62,243.17 350.62,243.49 351.62,243.48 352.62,243.71 353.62,244.16 354.62,244.04 355.62,244.26 356.62,244.60 357.62,244.57 358.63,244.91 359.63,245.34 360.63,245.36 361.63,245.61 362.63,245.90 363.63,246.08 364.63,246.08 365.63,246.15 366.63,246.32 367.63,246.57 368.63,246.81 369.63,246.86 370.63,247.09 371.63,247.24 372.63,247.66 373.63,247.70 374.63,247.93 375.63,248.30 376.63,248.33 377.63,248.36 378.63,248.64 379.64,249.01 380.64,248.87 381.64,249.25 382.64,249.43 383.64,249.60 384.64,249.91 385.64,249.84 386.64,249.98 387.64,250.29 388.64,250.38 389.64,250.75 390.64,250.93 391.64,251.09 392.64,251.02 393.64,251.24 394.64,251.28 395.64,251.54 396.64,251.98 397.64,252.14 398.64,252.31 399.64,252.18 400.64,252.33 401.65,252.66 402.65,252.91 403.65,253.00 404.65,252.93 405.65,253.42 406.65,253.51 407.65,253.44 408.65,253.66 409.65,254.07 410.65,254.00 411.65,254.28 412.65,254.20 413.65,254.66 414.65,254.51 415.65,255.00 416.65,254.90 417.65,254.96 418.65,255.45 419.65,255.42 420.65,255.53 421.65,255.84 422.65,255.76 423.66,255.90 424.66,256.06 425.66,256.15 426.66,256.39 427.66,256.62 428.66,256.70 429.66,256.88 430.66,257.03 431.66,257.14 432.66,257.11 433.66,257.32 434.66,257.68 435.66,257.66 436.66,257.89 437.66,257.85 438.66,258.05 439.66,258.40 440.66,258.45 441.66,258.73 442.66,258.74 443.66,258.84 444.66,258.95 445.67,259.10 446.67,259.32 447.67,259.55 448.67,259.53 449.67,259.77 450.67,259.62 451.67,259.73 452.67,259.86 453.67,260.27 454.67,260.15 455.67,260.48 456.67,260.70 457.67,260.56 458.67,260.75 459.67,261.12 460.67,260.91 461.67,261.18 462.67,261.17 463.67,261.51 464.67,261.56 465.67,261.47 466.68,261.83 467.68,261.73 468.68,262.14 469.68,261.98 470.68,262.07 471.68,262.28 472.68,262.46 473.68,262.73 474.68,262.58 475.68,262.86 476.68,262.78 477.68,263.13 478.68,262.99 479.68,263.33 480.68,263.22 481.68,263.32 482.68,263.58 483.68,263.73 484.68,263.72 485.68,263.93 486.68,263.87 487.68,263.95 488.69,264.16 489.69,264.45 490.69,264.45 491.69,264.49 492.69,264.55 493.69,264.85 494.69,264.73 495.69,265.13 496.69,265.19 497.69,265.16 498.69,265.22 499.69,265.43 500.69,265.39 501.69,265.64 502.69,265.62 503.69,265.58 504.69,265.68 505.69,265.85 506.69,265.88 507.69,266.29 508.69,266.15 509.69,266.26 510.70,266.30 511.70,266.44 512.70,266.82 513.70,266.62 514.70,266.74 515.70,266.71 516.70,267.00 517.70,266.99 518.70,267.00 519.70,267.13 521.00,267.39 521.00,312.21 519.70,312.26 518.70,312.31 517.70,312.50 516.70,312.59 515.70,312.64 514.70,312.72 513.70,313.06 512.70,312.99 511.70,313.25 510.70,313.14 509.69,313.25 508.69,313.26 507.69,313.52 506.69,313.69 505.69,313.52 504.69,313.84 503.69,313.70 502.69,313.88 501.69,314.10 500.69,314.28 499.69,314.43 498.69,314.34 497.69,314.58 496.69,314.51 495.69,314.49 494.69,314.73 493.69,314.87 492.69,314.75 491.69,314.86 490.69,315.02 489.69,315.17 488.69,315.28 487.68,315.35 486.68,315.44 485.68,315.57 484.68,315.64 483.68,316.06 482.68,315.93 481.68,316.25 480.68,316.36 479.68,316.45 478.68,316.61 477.68,316.52 476.68,316.48 475.68,316.85 474.68,317.05 473.68,316.90 472.68,317.28 471.68,317.08 470.68,317.46 469.68,317.37 468.68,317.77 467.68,317.89 466.68,317.82 465.67,317.87 464.67,318.04 463.67,317.99 462.67,318.23 461.67,318.37 460.67,318.53 459.67,318.81 458.67,318.80 457.67,319.11 456.67,319.24 455.67,319.04 454.67,319.40 453.67,319.60 452.67,319.64 451.67,319.60 450.67,319.81 449.67,319.82 448.67,320.27 447.67,320.13 446.67,320.51 445.67,320.67 444.66,320.64 443.66,320.84 442.66,320.90 441.66,321.01 440.66,321.28 439.66,321.31 438.66,321.36 437.66,321.61 436.66,321.84 435.66,321.87 434.66,322.03 433.66,322.14 432.66,322.41 431.66,322.31 430.66,322.38 429.66,322.73 428.66,323.03 427.66,323.17 426.66,323.14 425.66,323.46 424.66,323.41 423.66,323.63 422.65,323.66 421.65,323.77 420.65,324.19 419.65,324.36 418.65,324.40 417.65,324.30 416.65,324.66 415.65,324.86 414.65,325.08 413.65,325.22 412.65,325.11 411.65,325.27 410.65,325.74 409.65,325.67 408.65,325.99 407.65,326.14 406.65,326.18 405.65,326.46 404.65,326.57 403.65,326.78 402.65,326.82 401.65,327.15 400.64,327.03 399.64,327.20 398.64,327.42 397.64,327.83 396.64,327.78 395.64,328.04 394.64,328.05 393.64,328.11 392.64,328.48 391.64,328.73 390.64,328.93 389.64,329.17 388.64,329.04 387.64,329.43 386.64,329.60 385.64,329.61 384.64,329.92 383.64,330.20 382.64,330.00 381.64,330.22 380.64,330.72 379.64,330.58 378.63,330.80 377.63,330.92 376.63,331.25 375.63,331.63 374.63,331.47 373.63,331.74 372.63,331.84 371.63,332.32 370.63,332.30 369.63,332.40 368.63,332.55 367.63,332.78 366.63,332.93 365.63,333.34 364.63,333.44 363.63,333.79 362.63,333.98 361.63,333.88 360.63,334.30 359.63,334.52 358.63,334.67 357.62,334.80 356.62,334.94 355.62,335.22 354.62,335.32 353.62,335.49 352.62,335.98 351.62,336.00 350.62,336.39 349.62,336.61 348.62,336.65 347.62,337.03 346.62,337.00 345.62,337.43 344.62,337.39 343.62,337.76 342.62,338.07 341.62,338.14 340.62,338.65 339.62,338.77 338.62,338.98 337.62,339.33 336.62,339.37 335.61,339.66 334.61,339.78 333.61,340.12 332.61,340.39 331.61,340.55 330.61,340.89 329.61,340.87 328.61,341.17 327.61,341.63 326.61,341.74 325.61,342.02 324.61,342.08 323.61,342.41 322.61,342.55 321.61,342.66 320.61,342.79 319.61,343.09 318.61,343.35 317.61,343.62 316.61,343.51 315.61,343.75 314.61,343.82 313.60,344.13 312.60,344.52 311.60,344.41 310.60,344.83 309.60,344.72 308.60,345.05 307.60,345.27 306.60,345.43 305.60,345.53 304.60,345.79 303.30,346.17" fill="#0000ff"/>
<polyline points="303.30,243.70 304.60,243.91 305.60,244.11 306.60,244.32 307.60,244.52 308.60,244.72 309.60,244.92 310.60,245.12 311.60,245.32 312.60,245.52 313.60,245.72 314.61,245.92 315.61,246.12 316.61,246.31 317.61,246.51 318.61,246.70 319.61,246.89 320.61,247.08 321.61,247.28 322.61,247.47 323.61,247.66 324.61,247.84 325.61,248.03 326.61,248.22 327.61,248.41 328.61,248.59 329.61,248.78 330.61,248.96 331.61,249.14 332.61,249.32 333.61,249.51 334.61,249.69 335.61,249.87 336.62,250.04 337.62,250.22 338.62,250.40 339.62,250.58 340.62,250.75 341.62,250.93 342.62,251.10 343.62,251.27 344.62,251.45 345.62,251.62 346.62,251.79 347.62,251.96 348.62,252.13 349.62,252.30 350.62,252.47 351.62,252.63 352.62,252.80 353.62,252.97 354.62,253.13 355.62,253.30 356.62,253.46 357.62,253.62 358.63,253.79 359.63,253.95 360.63,254.11 361.63,254.27 362.63,254.43 363.63,254.59 364.63,254.74 365.63,254.90 366.63,255.06 367.63,255.21 368.63,255.37 369.63,255.52 370.63,255.68 371.63,255.83 372.63,255.98 373.63,256.13 374.63,256.29 375.63,256.44 376.63,256.59 377.63,256.73 378.63,256.88 379.64,257.03 380.64,257.18 381.64,257.32 382.64,257.47 383.64,257.62 384.64,257.76 385.64,257.90 386.64,258.05 387.64,258.19 388.64,258.33 389.64,258.47 390.64,258.61 391.64,258.75 392.64,258.89 393.64,259.03 394.64,259.17 395.64,259.31 396.64,259.44 397.64,259.58 398.64,259.72 399.64,259.85 400.64,259.99 401.65,260.12 402.65,260.25 403.65,260.39 404.65,260.52 405.65,260.65 406.65,260.78 407.65,260.91 408.65,261.04 409.65,261.17 410.65,261.30 411.65,261.43 412.65,261.56 413.65,261.68 414.65,261.81 415.65,261.94 416.65,262.06 417.65,262.19 418.65,262.31 419.65,262.43 420.65,262.56 421.65,262.68 422.65,262.80 423.66,262.92 424.66,263.04 425.66,263.16 426.66,263.28 427.66,263.40 428.66,263.52 429.66,263.64 430.66,263.76 431.66,263.88 432.66,263.99 433.66,264.11 434.66,264.22 435.66,264.34 436.66,264.45 437.66,264.57 438.66,264.68 439.66,264.80 440.66,264.91 441.66,265.02 442.66,265.13 443.66,265.24 444.66,265.35 445.67,265.46 446.67,265.57 447.67,265.68 448.67,265.79 449.67,265.90 450.67,266.01 451.67,266.12 452.67,266.22 453.67,266.33 454.67,266.43 455.67,266.54 456.67,266.64 457.67,266.75 458.67,266.85 459.67,266.96 460.67,267.06 461.67,267.16 462.67,267.26 463.67,267.37 464.67,267.47 465.67,267.57 466.68,267.67 467.68,267.77 468.68,267.87 469.68,267.97 470.68,268.07 471.68,268.16 472.68,268.26 473.68,268.36 474.68,268.46 475.68,268.55 476.68,268.65 477.68,268.74 478.68,268.84 479.68,268.93 480.68,269.03 481.68,269.12 482.68,269.22 483.68,269.31 484.68,269.40 485.68,269.49 486.68,269.59 487.68,269.68 488.69,269.77 489.69,269.86 490.69,269.95 491.69,270.04 492.69,270.13 493.69,270.22 494.69,270.31 495.69,270.39 496.69,270.48 497.69,270.57 498.69,270.66 499.69,270.74 500.69,270.83 501.69,270.92 502.69,271.00 503.69,271.09 504.69,271.17 505.69,271.26 506.69,271.34 507.69,271.42 508.69,271.51 509.69,271.59 510.70,271.67 511.70,271.75 512.70,271.84 513.70,271.92 514.70,272.00 515.70,272.08 516.70,272.16 517.70,272.24 518.70,272.32 519.70,272.40 521.00,272.48" fill="none" stroke="#ff0000" stroke-width="1.95"/>
<text x="303.80" y="215.20" style="font-size:13.5px">×</text>
<text x="313.10" y="214.00" style="font-size:11px">10</text>
<text x="323.90" y="208.60" style="font-size:8.3px">-4</text>
<text class="lb" x="412.15" y="392.90" text-anchor="middle">Time (s)</text>
<text class="lb" style="font-size:12.4px" transform="translate(284.50,289.65) rotate(-90)" text-anchor="middle">Vibrational velocity (m/s)</text>
<rect x="457.60" y="223.10" width="55.60" height="26.40" rx="1.2" ry="1.2" fill="#ffffff" stroke="#555555" stroke-width="1"/>
<line x1="461.30" x2="490.40" y1="230.50" y2="230.50" stroke="#4a4aff" stroke-width="0.9"/>
<line x1="461.30" x2="490.40" y1="242.20" y2="242.20" stroke="#ff0000" stroke-width="1.95"/>
<text class="lg" x="492.90" y="234.30">data</text>
<text class="lg" x="492.90" y="246.00">fit</text>
<text class="tau" x="451.80" y="356.50">τ=1036.7 s</text>
<text class="pn" x="263.80" y="209.40">(d)</text>
</g>
</svg></body></html>
